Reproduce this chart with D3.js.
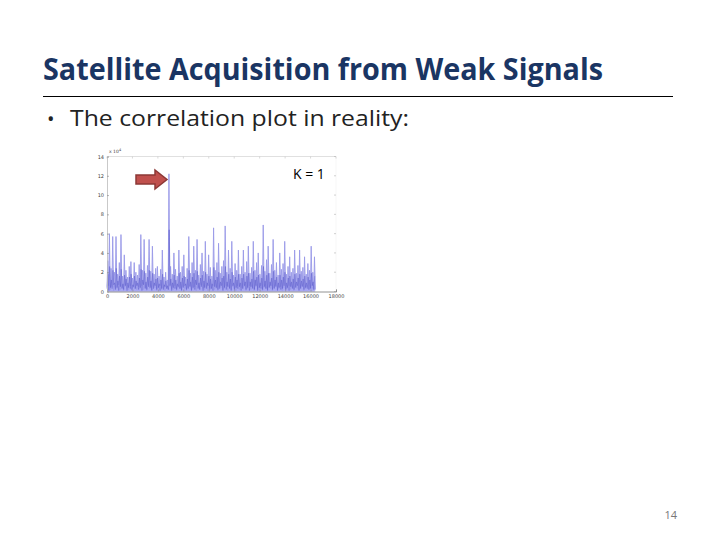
<!DOCTYPE html>
<html>
<head>
<meta charset="utf-8">
<script src="https://cdn.jsdelivr.net/npm/d3@7"></script>
<style>
  html, body { margin: 0; padding: 0; background: #fff; }
  svg { display: block; }
</style>
</head>
<body>
<svg id="slide" width="720" height="540"></svg>
<script>
// ---- Slide text ----
const slideTitle = "Satellite Acquisition from Weak Signals";
const bulletText = "The correlation plot in reality:";
const annotation = "K = 1";
const pageNumber = "14";

// ---- Chart data ----
// correlation magnitude (x10^4) per bin of code-phase samples
const samplesPerBin = 130;
const corrPeaks = [
  3.2, 6.0, 2.4, 5.7, 2.0, 5.7, 1.8, 3.0, 5.9, 1.6,
  3.8, 2.2, 1.5, 2.6, 3.1, 1.4, 3.0, 2.0, 1.7, 2.8,
  5.9, 2.2, 5.4, 1.9, 2.7, 5.4, 2.1, 4.7, 1.8, 2.4,
  2.6, 1.6, 2.3, 4.3, 1.5, 2.0, 1.2, 12.2, 2.6, 1.8,
  4.0, 2.3, 1.6, 4.3, 2.0, 2.6, 3.8, 1.5, 2.4, 5.7,
  1.9, 3.0, 4.7, 2.2, 5.4, 1.7, 2.8, 4.0, 2.1, 5.2,
  1.8, 3.8, 2.5, 1.6, 6.6, 2.2, 3.0, 5.0, 1.9, 2.6,
  3.2, 6.8, 2.0, 4.3, 2.4, 5.2, 1.7, 2.9, 2.2, 4.3,
  1.8, 2.6, 4.3, 2.0, 3.1, 4.7, 1.9, 2.5, 5.2, 2.2,
  3.0, 4.0, 1.8, 2.7, 6.9, 2.1, 3.3, 4.7, 1.9, 2.8,
  5.4, 2.2, 3.0, 1.7, 4.0, 2.3, 2.9, 5.2, 1.8, 2.6,
  3.6, 2.0, 2.4, 4.3, 1.9, 2.7, 4.3, 2.1, 2.5, 3.6,
  1.8, 2.9, 2.2, 4.7, 2.0, 3.6
];
const corrTroughs = [
  0.3, 0.6, 0.2, 0.5, 0.1, 0.4, 0.3, 0.7, 0.2, 0.4,
  0.1, 0.5, 0.3, 0.2, 0.6, 0.1, 0.4, 0.3, 0.2, 0.5,
  0.3, 0.6, 0.2, 0.4, 0.1, 0.7, 0.3, 0.2, 0.5, 0.4,
  0.1, 0.3, 0.6, 0.2, 0.4, 0.1, 0.3, 0.2, 0.5, 0.3,
  0.2, 0.6, 0.1, 0.4, 0.3, 0.2, 0.5, 0.3, 0.1, 0.4,
  0.6, 0.2, 0.3, 0.5, 0.1, 0.4, 0.2, 0.7, 0.3, 0.2,
  0.5, 0.1, 0.4, 0.3, 0.6, 0.2, 0.3, 0.1, 0.5, 0.4,
  0.2, 0.3, 0.6, 0.1, 0.4, 0.2, 0.5, 0.3, 0.1, 0.6,
  0.2, 0.4, 0.3, 0.5, 0.1, 0.3, 0.6, 0.2, 0.4, 0.1,
  0.5, 0.3, 0.2, 0.6, 0.1, 0.4, 0.3, 0.2, 0.5, 0.3,
  0.1, 0.4, 0.6, 0.2, 0.3, 0.5, 0.1, 0.4, 0.2, 0.3,
  0.6, 0.2, 0.4, 0.1, 0.5, 0.3, 0.2, 0.4, 0.6, 0.1,
  0.3, 0.5, 0.2, 0.4, 0.3, 0.2
];
const corrCore = [
  1.8, 2.6, 1.2, 2.2, 0.9, 2.4, 1.1, 1.6, 2.3, 0.8,
  1.7, 1.3, 0.9, 1.5, 1.8, 0.7, 1.6, 1.1, 0.9, 1.4,
  2.3, 1.2, 2.1, 1.0, 1.5, 2.2, 1.1, 1.9, 0.9, 1.3,
  1.4, 0.8, 1.2, 1.8, 0.7, 1.1, 0.6, 6.4, 1.3, 0.9,
  1.7, 1.2, 0.8, 1.9, 1.0, 1.4, 1.6, 0.8, 1.3, 2.2,
  1.0, 1.5, 1.9, 1.2, 2.1, 0.9, 1.4, 1.7, 1.1, 2.0,
  0.9, 1.6, 1.3, 0.8, 2.5, 1.2, 1.5, 2.0, 1.0, 1.4,
  1.6, 2.6, 1.0, 1.8, 1.3, 2.0, 0.9, 1.5, 1.2, 1.8,
  0.9, 1.4, 1.8, 1.0, 1.6, 1.9, 1.0, 1.3, 2.1, 1.2,
  1.5, 1.7, 0.9, 1.4, 2.6, 1.1, 1.7, 1.9, 1.0, 1.4,
  2.1, 1.2, 1.5, 0.9, 1.7, 1.2, 1.5, 2.0, 0.9, 1.4,
  1.6, 1.0, 1.3, 1.8, 1.0, 1.4, 1.8, 1.1, 1.3, 1.6,
  0.9, 1.5, 1.2, 1.9, 1.0, 1.6
];
const xTicks = [0, 2000, 4000, 6000, 8000, 10000, 12000, 14000, 16000, 18000];
const yTicks = [0, 2, 4, 6, 8, 10, 12, 14];

const svg = d3.select("#slide");

// ---- Title ----
svg.append("text")
  .attr("x", 43).attr("y", 80)
  .attr("font-family", "'Liberation Sans Narrow', 'Open Sans', sans-serif")
  .attr("font-weight", "bold")
  .attr("font-size", 31)
  .attr("fill", "#1a3563")
  .attr("textLength", 560)
  .attr("lengthAdjust", "spacingAndGlyphs")
  .text(slideTitle);

svg.append("line")
  .attr("x1", 43).attr("x2", 673).attr("y1", 96.5).attr("y2", 96.5)
  .attr("stroke", "#000").attr("stroke-width", 1);

// ---- Bullet ----
svg.append("text")
  .attr("x", 47).attr("y", 126)
  .attr("font-family", "'Open Sans', sans-serif")
  .attr("font-size", 20).attr("fill", "#222")
  .text("•");
svg.append("text")
  .attr("x", 70).attr("y", 126)
  .attr("font-family", "'Open Sans', sans-serif")
  .attr("font-size", 21).attr("fill", "#222")
  .attr("textLength", 339)
  .attr("lengthAdjust", "spacingAndGlyphs")
  .text(bulletText);

// ---- Chart ----
const x = d3.scaleLinear().domain([0, 18000]).range([107, 336]);
const y = d3.scaleLinear().domain([0, 14]).range([291.5, 156.5]);

const g = svg.append("g");

// box (top and right, light)
g.append("line").attr("x1", x(0)).attr("x2", x(18000)).attr("y1", y(14)).attr("y2", y(14))
  .attr("stroke", "#d8d8d8").attr("stroke-width", 0.8);
g.append("line").attr("x1", x(18000)).attr("x2", x(18000)).attr("y1", y(14)).attr("y2", y(0))
  .attr("stroke", "#f2f2f2").attr("stroke-width", 0.6);

// top ticks
g.selectAll(".tt").data(xTicks).enter().append("line")
  .attr("x1", d => x(d)).attr("x2", d => x(d)).attr("y1", y(14)).attr("y2", y(14) + 2)
  .attr("stroke", "#c8c8c8").attr("stroke-width", 0.7);
// right ticks
g.selectAll(".rt").data(yTicks).enter().append("line")
  .attr("x1", x(18000) - 2).attr("x2", x(18000)).attr("y1", d => y(d)).attr("y2", d => y(d))
  .attr("stroke", "#bbb").attr("stroke-width", 0.7);

// data series (zig-zag through bin peaks and troughs)
const pts = [];
corrPeaks.forEach((v, i) => {
  pts.push([i * samplesPerBin, corrTroughs[i]]);
  pts.push([(i + 0.45) * samplesPerBin, v]);
});
pts.push([corrPeaks.length * samplesPerBin, 0.2]);
const corePts = [];
corrCore.forEach((v, i) => {
  corePts.push([(i + 0.1) * samplesPerBin, corrTroughs[(i + 3) % corrTroughs.length]]);
  corePts.push([(i + 0.6) * samplesPerBin, v]);
});

const area = d3.area().x(d => x(d[0])).y0(y(0)).y1(d => y(d[1]));
const line = d3.line().x(d => x(d[0])).y(d => y(d[1]));

g.append("path").datum(pts).attr("d", area)
  .attr("fill", "#cdcdf7");
g.append("path").datum(corePts).attr("d", area)
  .attr("fill", "#9d9df0").attr("opacity", 0.8);
g.append("path").datum(pts).attr("d", line)
  .attr("fill", "none").attr("stroke", "#9a9ae8").attr("stroke-width", 0.9);
g.append("path").datum(corePts).attr("d", line)
  .attr("fill", "none").attr("stroke", "#4a4ac4").attr("stroke-width", 0.45).attr("opacity", 0.8);

// axes
const xAxis = d3.axisBottom(x).tickValues(xTicks).tickFormat(d3.format("d")).tickSize(-2).tickPadding(3);
const yAxis = d3.axisLeft(y).tickValues(yTicks).tickFormat(d3.format("d")).tickSize(-2).tickPadding(3);
const xg = g.append("g").attr("transform", `translate(0,${y(0)})`).call(xAxis);
const yg = g.append("g").attr("transform", `translate(${x(0)},0)`).call(yAxis);
[xg, yg].forEach(a => {
  a.select(".domain").attr("stroke", "#777").attr("stroke-width", 0.8);
  a.selectAll(".tick line").attr("stroke", "#888").attr("stroke-width", 0.6);
  a.selectAll("text").attr("font-family", "'DejaVu Sans', sans-serif")
    .attr("font-size", 5).attr("fill", "#444");
});
yg.select(".domain").attr("stroke", "#bbb");

// exponent label
g.append("text").attr("x", 109).attr("y", 153)
  .attr("font-family", "'DejaVu Sans', sans-serif").attr("font-size", 4.5).attr("fill", "#444")
  .text("x 10");
g.append("text").attr("x", 119).attr("y", 150.5)
  .attr("font-family", "'DejaVu Sans', sans-serif").attr("font-size", 3.5).attr("fill", "#444")
  .text("4");

// arrow pointing to the peak
const arrowPts = [[136, 175], [155, 175], [155, 170], [167, 179.5], [155, 189], [155, 184], [136, 184]];
svg.append("path")
  .attr("d", d3.line()(arrowPts) + "Z")
  .attr("fill", "#c0504d").attr("stroke", "#8c3836").attr("stroke-width", 1.5)
  .attr("stroke-linejoin", "miter");

// K = 1 annotation
svg.append("text").attr("x", 293).attr("y", 179)
  .attr("font-family", "'Open Sans', sans-serif").attr("font-size", 14).attr("fill", "#000")
  .text(annotation);

// page number
svg.append("text").attr("x", 677).attr("y", 519).attr("text-anchor", "end")
  .attr("font-family", "'Open Sans', sans-serif").attr("font-size", 11).attr("fill", "#777")
  .text(pageNumber);
</script>
</body>
</html>
